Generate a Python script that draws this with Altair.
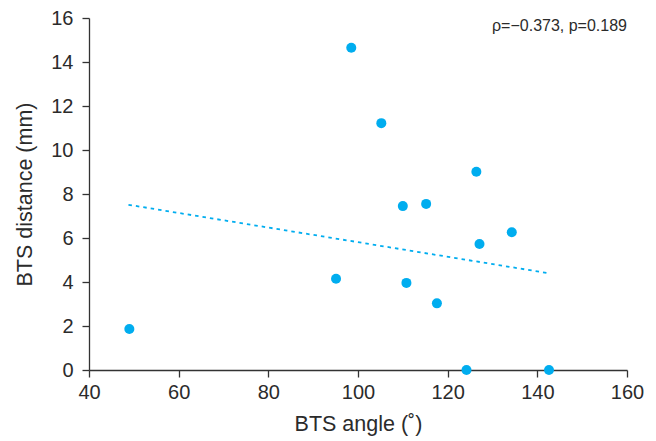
import altair as alt
import pandas as pd

angle = [49.0, 98.5, 105.2, 126.4, 110.0, 115.2, 134.3, 127.1, 95.1, 110.8, 117.6, 124.2, 142.6]
distance = [1.86, 14.65, 11.22, 9.01, 7.45, 7.55, 6.26, 5.73, 4.15, 3.96, 3.03, 0.0, 0.0]
trend_x = [48.8, 142.5]
trend_y = [7.51, 4.40]
annotation = "ρ=−0.373, p=0.189"

pts = pd.DataFrame({"angle": angle, "distance": distance})
trend = pd.DataFrame({"angle": trend_x, "distance": trend_y})

FONT = "Liberation Sans"
TXT = "#2b2b2b"
BLUE = "#00adef"

xs = alt.Scale(domain=[40, 160], nice=False, zero=False)
ys = alt.Scale(domain=[0, 16], nice=False)

xaxis = alt.Axis(values=list(range(40, 161, 20)), title="BTS angle (˚)", grid=False,
                 tickSize=7, labelPadding=5, titlePadding=11, labelFlush=False)
yaxis = alt.Axis(values=list(range(0, 17, 2)), title="BTS distance (mm)", grid=False,
                 tickSize=7, labelPadding=9, titlePadding=14, labelFlush=False)

points = alt.Chart(pts).mark_circle(size=100, opacity=1, color=BLUE).encode(
    x=alt.X("angle:Q", scale=xs, axis=xaxis),
    y=alt.Y("distance:Q", scale=ys, axis=yaxis),
)

line = alt.Chart(trend).mark_line(color=BLUE, strokeDash=[3.5, 4], strokeWidth=1.8).encode(
    x=alt.X("angle:Q", scale=xs),
    y=alt.Y("distance:Q", scale=ys),
)

text = alt.Chart(pd.DataFrame({"t": [annotation]})).mark_text(
    align="right", baseline="middle", fontSize=16, font=FONT, color=TXT
).encode(x=alt.value(538), y=alt.value(7.5), text="t:N")

chart = alt.layer(line, points, text).properties(
    width=538, height=352,
    autosize=alt.AutoSizeParams(type="none"),
    padding={"left": 81, "top": 10, "right": 21, "bottom": 70},
).configure_view(stroke=None).configure_axis(
    domainColor="#333333", tickColor="#333333", domainWidth=1.3, tickWidth=1.3,
    labelFont=FONT, titleFont=FONT, labelFontSize=20, titleFontSize=21.5,
    labelColor=TXT, titleColor=TXT, titleFontWeight="normal",
)

chart.save("out.html", embed_options={"renderer": "svg", "actions": False})
